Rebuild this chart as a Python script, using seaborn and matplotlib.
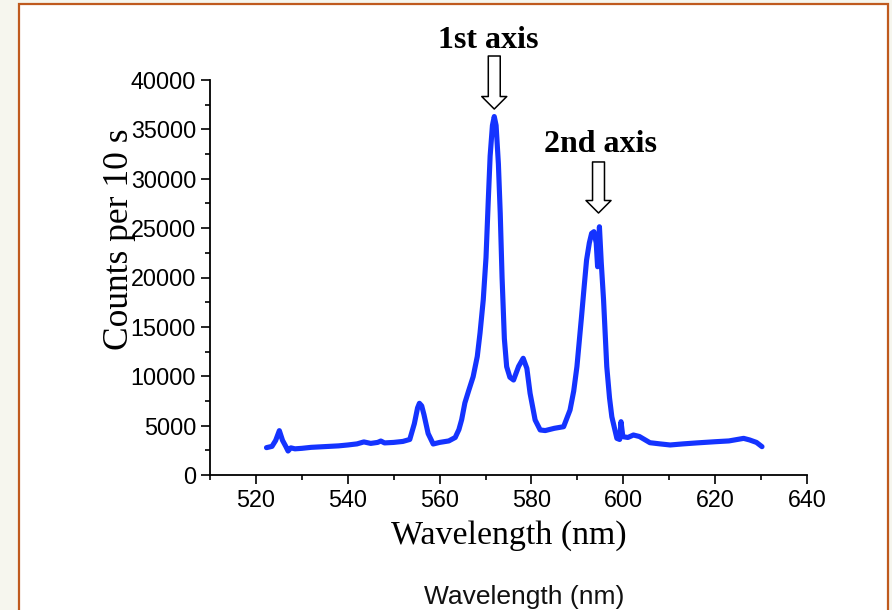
import matplotlib
matplotlib.use("Agg")
import matplotlib.pyplot as plt
from matplotlib.patches import Rectangle
import seaborn as sns
import pandas as pd

# Emission spectrum: wavelength (nm) and counts per 10 s
wavelength = [522.3, 523.5, 524.3, 525.1, 525.8, 526.5, 527.0, 527.6, 528.5, 530,
              532, 534, 536, 538, 540, 542, 543.5, 545, 546.5, 547.2,
              548, 550, 552, 553.5, 554.5, 555.2, 555.6, 556.1, 556.6, 557.5,
              558.6, 560, 562, 563.4, 564.2, 564.8, 565.5, 566.3, 567.3, 568.2,
              568.8, 569.5, 570.1, 570.6, 571.0, 571.5, 571.9, 572.3, 572.8, 573.2,
              573.6, 574.1, 574.6, 575.3, 576.1, 577.2, 578.2, 579.0, 579.7, 580.8,
              581.9, 583, 585, 587, 588.4, 589.2, 589.9, 590.9, 591.5, 592.0,
              592.6, 593.1, 593.6, 594.1, 594.4, 594.8, 595.2, 595.7, 596.4, 597.0,
              597.5, 598.6, 599.2, 599.5, 599.9, 601, 602.2, 603.5, 605.8, 608,
              610.2, 613, 616, 620, 623, 626.2, 627.5, 629, 630.2]
counts = [2770, 2900, 3500, 4490, 3500, 2900, 2430, 2750, 2650, 2700,
          2800, 2850, 2900, 2950, 3040, 3150, 3350, 3200, 3300, 3440,
          3250, 3300, 3400, 3600, 5200, 6800, 7260, 7000, 6100, 4200,
          3140, 3300, 3450, 3800, 4600, 5600, 7300, 8500, 9950, 12000,
          14380, 17720, 22000, 27850, 32300, 35400, 36300, 35400, 31500, 26500,
          20000, 13800, 10970, 9900, 9620, 11000, 11820, 10800, 8270, 5570,
          4560, 4500, 4730, 4890, 6580, 8500, 10970, 16030, 19200, 21770,
          23500, 24470, 24640, 23500, 21090, 25140, 21500, 17720, 10970, 7800,
          5900, 3710, 3600, 5400, 3880, 3800, 4050, 3900, 3270, 3150,
          3040, 3150, 3250, 3370, 3450, 3710, 3550, 3300, 2870]

# Annotated peaks: label, arrow tip (nm, counts), arrow tail (counts)
peak_labels = ["1st axis", "2nd axis"]
peak_nm = [571.9, 594.6]
peak_tip = [37060, 26530]
peak_tail = [42430, 31700]

x_ticks = [520, 540, 560, 580, 600, 620, 640]
y_ticks = [0, 5000, 10000, 15000, 20000, 25000, 30000, 35000, 40000]

df = pd.DataFrame({"wavelength": wavelength, "counts": counts})

sns.set_style("ticks")
plt.rcParams["font.family"] = ["Liberation Sans", "DejaVu Sans"]
plt.rcParams["text.color"] = "black"

W, H = 892, 610
fig = plt.figure(figsize=(W / 100, H / 100), dpi=100)
fig.patch.set_facecolor("#F6F6EE")

# White panel with a rust-coloured border, behind everything else
panel = Rectangle((19 / W, -0.02), (888 - 19) / W, 1 - 4 / H + 0.02,
                  transform=fig.transFigure, facecolor="white",
                  edgecolor="#BF5A1E", linewidth=1.6, zorder=-10)
fig.patches.append(panel)

ax = fig.add_axes([210 / W, (H - 475) / H, (807 - 210) / W, (475 - 80) / H])
ax.set_facecolor("none")
ax.set_zorder(5)

sns.lineplot(data=df, x="wavelength", y="counts", ax=ax, color="#1433FF",
             linewidth=3.7, sort=False, estimator=None)

ax.set_xlim(510, 640)
ax.set_ylim(0, 40000)
ax.set_xticks(x_ticks)
ax.set_yticks(y_ticks)
ax.set_xticks([510, 530, 550, 570, 590, 610, 630], minor=True)
ax.set_yticks([2500 + 5000 * i for i in range(8)], minor=True)
ax.set_xticklabels([str(v) for v in x_ticks])
ax.set_yticklabels([str(v) for v in y_ticks])
ax.tick_params(axis="both", which="major", direction="out", length=6.5, width=1.2,
               labelsize=16.8, pad=3.5, colors="black")
ax.tick_params(axis="both", which="minor", direction="out", length=3.5, width=1.2,
               colors="black")
sns.despine(ax=ax)
for side in ("left", "bottom"):
    ax.spines[side].set_linewidth(1.3)
    ax.spines[side].set_color("black")

ax.set_xlabel("Wavelength (nm)", family=["Liberation Serif", "DejaVu Serif"],
              fontsize=24.4, labelpad=6, color="black")
ax.set_ylabel("")

# Vertical axis title
fig.text(120 / W, 1 - 239 / H, "Counts per 10 s", rotation=90,
         family=["Liberation Serif", "DejaVu Serif"], fontsize=25.5,
         ha="center", va="center", zorder=10, color="black")

# Caption below the plot
fig.text(524.5 / W, 1 - 604 / H, "Wavelength (nm)", fontsize=19,
         ha="center", va="baseline", color="#111111")

# Hollow arrows marking the two peaks
label_baseline_px = [48, 151.5]
label_shift_px = [-6, 1.5]
for lab, nm, tip, tail, by, dx in zip(peak_labels, peak_nm, peak_tip, peak_tail,
                                      label_baseline_px, label_shift_px):
    ax.annotate("", xy=(nm, tip), xytext=(nm, tail), annotation_clip=False,
                arrowprops=dict(arrowstyle="simple,head_length=0.9,head_width=1.8,tail_width=0.86",
                                mutation_scale=10, facecolor="white",
                                edgecolor="black", linewidth=1.1,
                                shrinkA=0, shrinkB=0))
    fig.text((ax.transData.transform((nm, 0))[0] + dx) / W, 1 - by / H, lab,
             family=["Liberation Serif", "DejaVu Serif"], fontweight="bold",
             fontsize=23, ha="center", va="baseline", color="black")

fig.savefig("out.png", dpi=100, facecolor=fig.get_facecolor())
